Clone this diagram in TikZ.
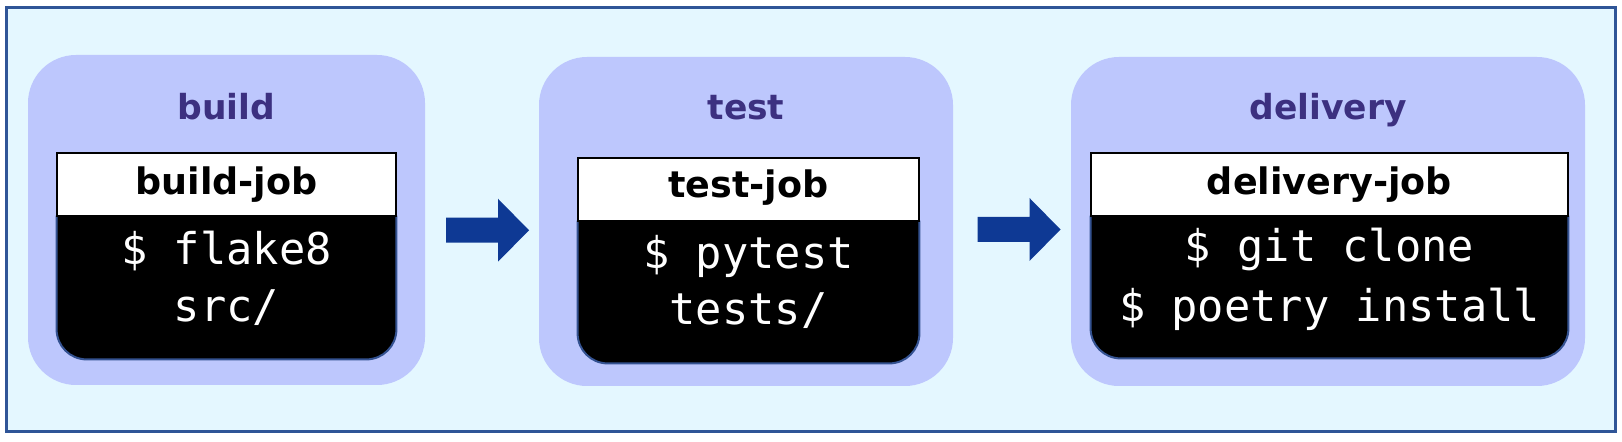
\documentclass[tikz,border=0pt]{standalone}
\usepackage{fontspec}
\setmainfont{DejaVu Sans}
\newfontfamily\monof{DejaVu Sans Mono}
\usetikzlibrary{calc}
\definecolor{bgc}{RGB}{228,247,255}
\definecolor{framec}{RGB}{47,85,151}
\definecolor{stagec}{RGB}{189,199,253}
\definecolor{titlec}{RGB}{60,48,128}
\definecolor{flowc}{RGB}{14,57,148}
\definecolor{edgec}{RGB}{52,82,145}
\tikzset{
  frame/.style={draw=framec, line width=1.5pt, fill=bgc, rectangle, inner sep=0pt},
  stage/.style={rectangle, fill=stagec, rounded corners=24pt, inner sep=0pt},
  titletext/.style={anchor=base, inner sep=0pt, text=titlec, font=\fontsize{17.25}{20}\selectfont\bfseries},
  hdr/.style={rectangle, draw=black, line width=0.6pt, fill=white, inner sep=0pt},
  hdrtext/.style={anchor=base, inner sep=0pt, text=black, font=\fontsize{18.25}{21}\selectfont\bfseries},
  bodybox/.style={rectangle, inner sep=0pt},
  bodyfill/.style={fill=black},
  bodyedge/.style={draw=edgec, line width=1pt},
  cmdtext/.style={anchor=base, inner sep=0pt, text=white, font=\fontsize{21.85}{26}\selectfont\monof},
  blockarrow/.pic={\fill[flowc] (-41.5,-12.5) -- (10.5,-12.5) -- (10.5,-31.5) -- (41.5,0) -- (10.5,31.5) -- (10.5,12.5) -- (-41.5,12.5) -- cycle;}
}
\begin{document}
\begin{tikzpicture}[x=0.5pt,y=-0.5pt]
\useasboundingbox (0,0) rectangle (1622,442);
\node[frame, minimum width=804.5pt, minimum height=212pt] (fr) at (810.5,220) {};

% stages
\node[stage, minimum width=198.5pt, minimum height=165pt] (s1) at (226.5,220) {};
\node[stage, minimum width=207pt, minimum height=164.5pt] (s2) at (746,221.5) {};
\node[stage, minimum width=257pt, minimum height=164.5pt] (s3) at (1328,221.5) {};

% titles
\node[titletext] (t1) at (226.5,120) {build};
\node[titletext] (t2) at (746,120) {test};
\node[titletext] (t3) at (1328,120) {delivery};

% bodies
\node[bodybox, minimum width=169.5pt, minimum height=71.5pt] (k1) at (226.5,287.5) {};
\node[bodybox, minimum width=170.5pt, minimum height=71pt] (k2) at (748.5,292) {};
\node[bodybox, minimum width=238.5pt, minimum height=71pt] (k3) at (1329.5,287) {};
\foreach \k in {k1,k2,k3}{
  \fill[bodyfill] (\k.north west) [rounded corners=15pt] -- (\k.south west) -- (\k.south east) [sharp corners] -- (\k.north east) -- cycle;
  \draw[bodyedge] (\k.north west) [rounded corners=15pt] -- (\k.south west) -- (\k.south east) -- (\k.north east);
}

% headers
\node[hdr, minimum width=169.5pt, minimum height=31.5pt] (h1) at (226.5,184.5) {};
\node[hdr, minimum width=170.5pt, minimum height=31.5pt] (h2) at (748.5,189.5) {};
\node[hdr, minimum width=238.5pt, minimum height=31.5pt] (h3) at (1329.5,184.5) {};
\node[hdrtext] (h1t) at (226.5,195) {build-job};
\node[hdrtext] (h2t) at (748.5,198) {test-job};
\node[hdrtext] (h3t) at (1329.5,195) {delivery-job};

% commands
\node[cmdtext] (c1a) at (226.5,265) {\$ flake8};
\node[cmdtext] (c1b) at (226.5,322) {src/};
\node[cmdtext] (c2a) at (748.5,269) {\$ pytest};
\node[cmdtext] (c2b) at (748.5,325) {tests/};
\node[cmdtext] (c3a) at (1329.5,262) {\$ git clone};
\node[cmdtext] (c3b) at (1329.5,322) {\$ poetry install};

% flow arrows
\coordinate (a1) at ($(s1.east)!0.5!(s2.west)+(5.5,9.5)$);
\coordinate (a2) at ($(s2.east)!0.5!(s3.west)+(7,8)$);
\pic (p1) at (a1) {blockarrow};
\pic (p2) at (a2) {blockarrow};
\end{tikzpicture}
\end{document}
